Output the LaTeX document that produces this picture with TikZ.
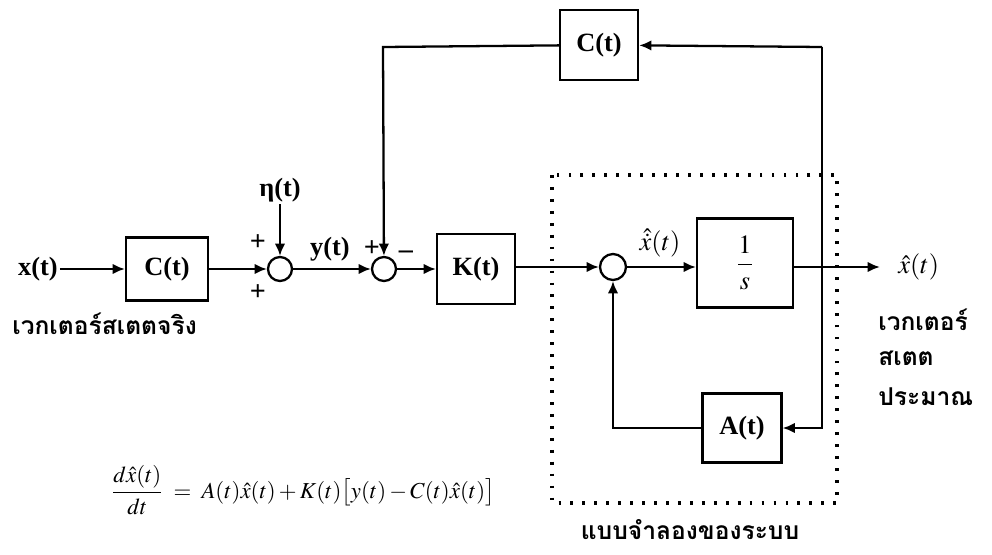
\documentclass[tikz,border=0pt]{standalone}
\usepackage{amsmath}
\usepackage{mathptmx}
\usepackage{fontspec}
\setmainfont{Liberation Serif}
\newfontfamily\thaifont[Script=Thai]{Loma}
\usetikzlibrary{arrows.meta}
\tikzset{
  blk/.style={draw,line width=1.3pt,inner sep=0pt,font=\fontsize{15}{18}\selectfont\bfseries},
  sumnode/.style={draw,circle,line width=1.3pt,minimum size=0.48cm,inner sep=0pt},
  lbl/.style={font=\fontsize{15}{18}\selectfont\bfseries,inner sep=1pt},
  sgn/.style={font=\fontsize{16}{18}\selectfont\bfseries,inner sep=0pt},
  th/.style={font=\thaifont\bfseries\fontsize{14}{17}\selectfont,inner sep=0pt},
  sig/.style={line width=1.3pt,-{Latex[length=7pt,width=6pt]}},
  dotbox/.style={line width=1.8pt,dash pattern=on 1.6pt off 5.2pt}
}
\begin{document}
\begin{tikzpicture}[x=0.02cm,y=-0.02cm]
\useasboundingbox (0,0) rectangle (992,555);
% nodes
\node[lbl] (xin) at (38,269) {x(t)};
\node[blk,minimum width=1.64cm,minimum height=1.26cm] (C1) at (167,269) {C(t)};
\node[sumnode] (s1) at (280,269) {};
\node[lbl] (eta) at (280,190) {η(t)};
\node[sumnode] (s2) at (384,269) {};
\node[blk,minimum width=1.56cm,minimum height=1.4cm] (K) at (476,269) {K(t)};
\node[sumnode,minimum size=0.52cm] (s3) at (613,267) {};
\node[blk,minimum width=1.92cm,minimum height=1.78cm] (I) at (745,263) {$\displaystyle\frac{1}{s}$};
\node[blk,minimum width=1.58cm,minimum height=1.38cm] (A) at (742,428) {A(t)};
\node[blk,minimum width=1.56cm,minimum height=1.4cm] (C2) at (599,45) {C(t)};
\coordinate (out) at (880,267);
\coordinate (tr) at (822,47);
\coordinate (tl) at (383,47);
\coordinate (ar) at (822,428);
\coordinate (al) at (613,428);
% labels
\node[sgn] (p1) at (258,243) {+};
\node[sgn] (p2) at (258,293) {+};
\node[lbl] (ylab) at (330,249) {y(t)};
\node[sgn] (p3) at (372,249) {+};
\node[sgn] (m1) at (406,255) {--};
\node[font=\fontsize{15}{18}\selectfont,inner sep=0pt] (xdot) at (660,243) {$\hat{\dot{x}}(t)$};
\node[font=\fontsize{15}{18}\selectfont,inner sep=0pt,anchor=west] (xhat) at (898,267) {$\hat{x}(t)$};
\node[th,anchor=west] (t1) at (878,320) {เวกเตอร์};
\node[th,anchor=west] (t2) at (878,358) {สเตต};
\node[th,anchor=west] (t3) at (878,397) {ประมาณ};
\node[th,anchor=west] (t4) at (12,324) {เวกเตอร์สเตตจริง};
\node[th] (t5) at (690,530) {แบบจำลองของระบบ};
\node[font=\fontsize{13}{16}\selectfont,inner sep=0pt] (eq) at (303,490)
  {$\dfrac{d\hat{x}(t)}{dt} \;=\; A(t)\hat{x}(t)+K(t)\big[y(t)-C(t)\hat{x}(t)\big]$};
% dotted box
\draw[dotbox] (552,175) rectangle (837,503);
% connectors
\draw[sig] (xin) -- (C1);
\draw[sig] (C1) -- (s1);
\draw[sig] (eta) -- (s1);
\draw[sig] (s1) -- (s2);
\draw[sig] (s2) -- (K);
\draw[sig] (K.east |- s3) -- (s3);
\draw[sig] (s3) -- (s3 -| I.west);
\draw[sig] (I.east |- out) -- (out);
\draw[sig] (tr) -- (ar) -- (A);
\draw[sig] (A) -- (al) -- (s3);
\draw[sig] (tr) -- (C2);
\draw[sig] (C2) -- (tl) -- (s2);
\end{tikzpicture}
\end{document}
